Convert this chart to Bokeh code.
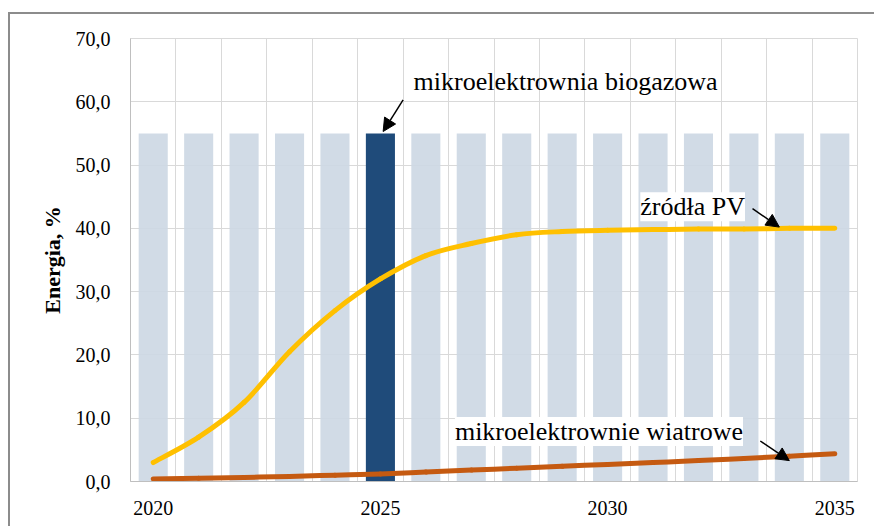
from bokeh.plotting import figure
from bokeh.models import (FixedTicker, CustomJSTickFormatter, Label, Arrow,
                          NormalHead, Range1d)
from bokeh.embed import file_html
from bokeh.resources import INLINE

# ---------------- data ----------------
years = [2020, 2021, 2022, 2023, 2024, 2025, 2026, 2027,
         2028, 2029, 2030, 2031, 2032, 2033, 2034, 2035]
bar_values = [55.0, 55.0, 55.0, 55.0, 55.0, 55.0, 55.0, 55.0,
              55.0, 55.0, 55.0, 55.0, 55.0, 55.0, 55.0, 55.0]
highlight_year = 2025
pv = [3.0, 7.0, 12.5, 20.5, 27.0, 32.0, 35.7, 37.6,
      39.0, 39.5, 39.7, 39.8, 39.9, 39.9, 40.0, 40.0]
wind = [0.4, 0.5, 0.65, 0.8, 1.0, 1.2, 1.5, 1.8,
        2.1, 2.4, 2.7, 3.0, 3.3, 3.65, 4.0, 4.4]
x_ticks = [2020, 2025, 2030, 2035]
y_ticks = [0, 10, 20, 30, 40, 50, 60, 70]
y_label = "Energia, %"
label_biogas = "mikroelektrownia biogazowa"
label_pv = "źródła PV"
label_wind = "mikroelektrownie wiatrowe"

# ---------------- styles ----------------
BAR_LIGHT = "#ccd7e3"
BAR_DARK = "#1f4b7a"
PV_COLOR = "#ffc000"
WIND_COLOR = "#c55a11"
GRID = "#d9d9d9"
SERIF = "Liberation Serif"

bar_colors = [BAR_DARK if y == highlight_year else BAR_LIGHT for y in years]
bar_alpha = [1.0 if y == highlight_year else 0.9 for y in years]

p = figure(width=866, height=514, output_backend="svg", toolbar_location=None,
           x_range=Range1d(years[0] - 0.5, years[-1] + 0.5),
           y_range=Range1d(y_ticks[0], y_ticks[-1]),
           min_border_left=120, min_border_right=19,
           min_border_top=24, min_border_bottom=47)
p.margin = (12, 0, 0, 8)
p.styles = {"border-top": "2px solid #8c8c8c", "border-left": "2px solid #8c8c8c"}

p.outline_line_color = GRID
p.background_fill_color = "white"
p.border_fill_color = "white"

# grids
p.xgrid.ticker = FixedTicker(ticks=[y - 0.5 for y in years] + [years[-1] + 0.5])
p.xgrid.grid_line_color = GRID
p.ygrid.ticker = FixedTicker(ticks=y_ticks)
p.ygrid.grid_line_color = GRID

# axes
p.xaxis.ticker = FixedTicker(ticks=x_ticks)
p.yaxis.ticker = FixedTicker(ticks=y_ticks)
p.yaxis.formatter = CustomJSTickFormatter(code="return tick.toFixed(1).replace('.', ',');")
for ax in (p.xaxis[0], p.yaxis[0]):
    ax.axis_line_color = "#bfbfbf"
    ax.major_tick_line_color = None
    ax.minor_tick_line_color = None
    ax.major_tick_out = 0
    ax.major_tick_in = 0
    ax.major_label_text_font = SERIF
    ax.major_label_text_font_size = "20px"
    ax.major_label_text_color = "black"
p.yaxis.major_label_standoff = 20
p.xaxis.major_label_standoff = 19
p.yaxis.axis_label = y_label
p.yaxis.axis_label_text_font = SERIF
p.yaxis.axis_label_text_font_style = "bold"
p.yaxis.axis_label_text_font_size = "22px"
p.yaxis.axis_label_text_color = "black"
p.yaxis.axis_label_standoff = 8

# bars
p.vbar(x=years, top=bar_values, width=0.64, fill_color=bar_colors,
       fill_alpha=bar_alpha, line_color=None)

# smoothed lines (Catmull-Rom control points derived from the data)
def smooth(xs, ys, color):
    n = len(xs)
    x0, y0, x1, y1, cx0, cy0, cx1, cy1 = [], [], [], [], [], [], [], []
    for i in range(n - 1):
        xp, yp = (xs[i - 1], ys[i - 1]) if i > 0 else (xs[i], ys[i])
        xn, yn = (xs[i + 2], ys[i + 2]) if i + 2 < n else (xs[i + 1], ys[i + 1])
        x0.append(xs[i]); y0.append(ys[i])
        x1.append(xs[i + 1]); y1.append(ys[i + 1])
        cx0.append(xs[i] + (xs[i + 1] - xp) / 6); cy0.append(ys[i] + (ys[i + 1] - yp) / 6)
        cx1.append(xs[i + 1] - (xn - xs[i]) / 6); cy1.append(ys[i + 1] - (yn - ys[i]) / 6)
    p.bezier(x0=x0, y0=y0, x1=x1, y1=y1, cx0=cx0, cy0=cy0, cx1=cx1, cy1=cy1,
             line_color=color, line_width=5, line_cap="round")

smooth(years, pv, PV_COLOR)
smooth(years, wind, WIND_COLOR)

# annotations
p.add_layout(Label(x=2025.73, y=63.2, text=label_biogas, text_font=SERIF,
                   text_font_size="26px", text_color="black",
                   text_baseline="alphabetic"))
p.add_layout(Label(x=2030.72, y=43.4, text=label_pv, text_font=SERIF,
                   text_font_size="26px", text_color="black",
                   text_baseline="alphabetic", background_fill_color="white",
                   background_fill_alpha=1.0))
p.add_layout(Label(x=2026.64, y=7.9, text=label_wind, text_font=SERIF,
                   text_font_size="26px", text_color="black",
                   text_baseline="alphabetic", background_fill_color="white",
                   background_fill_alpha=1.0))

def arrow(x0, y0, x1, y1):
    p.add_layout(Arrow(end=NormalHead(size=13, fill_color="black", line_color="black"),
                       x_start=x0, y_start=y0, x_end=x1, y_end=y1,
                       line_color="black", line_width=1.5))

arrow(2025.5, 60.3, 2025.06, 55.3)
arrow(2033.19, 43.1, 2033.78, 40.2)
arrow(2033.36, 6.4, 2034.0, 3.3)

open("out.html", "w").write(file_html(p, INLINE))
